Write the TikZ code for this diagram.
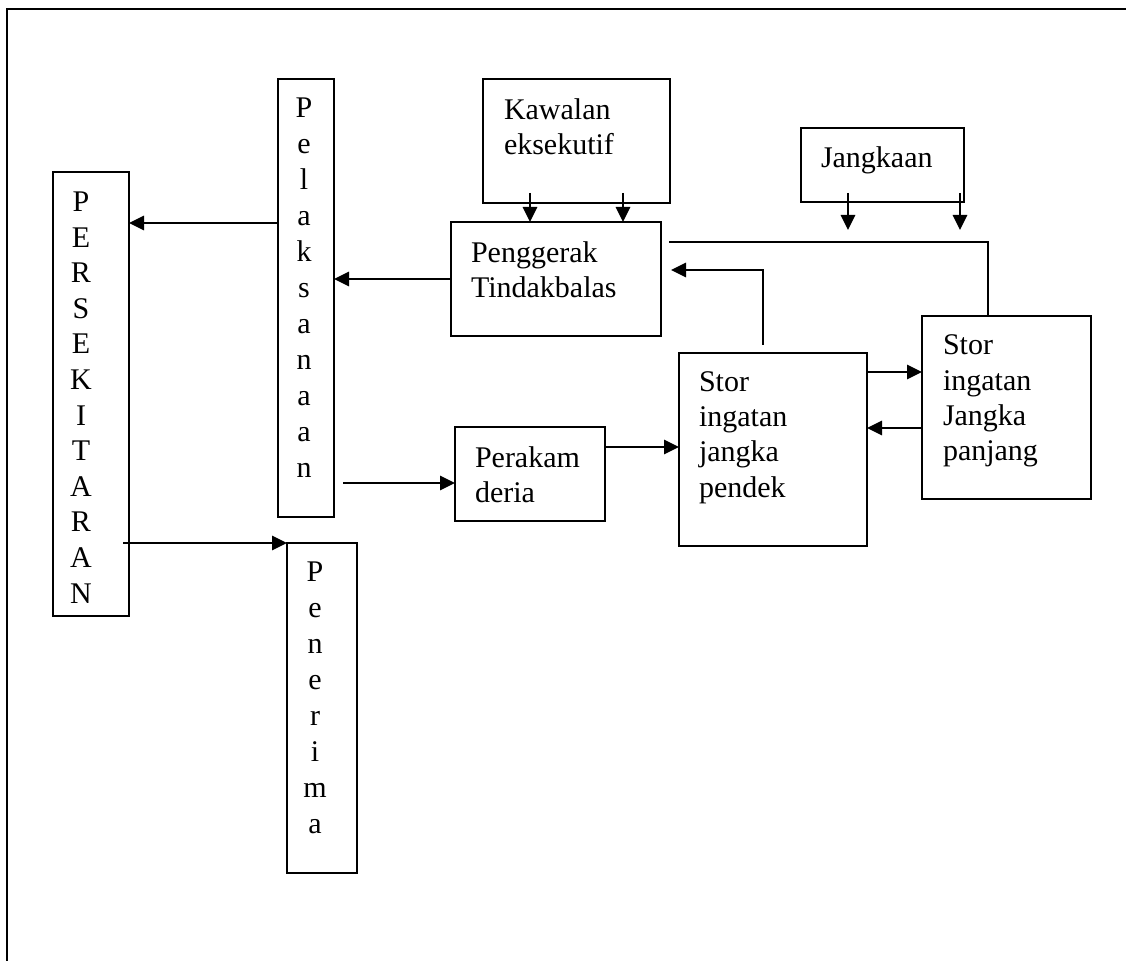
\documentclass[tikz,border=0pt]{standalone}
\usepackage{fontspec}
\setmainfont{Liberation Serif}
\usetikzlibrary{arrows.meta,calc}

\begin{document}
\begin{tikzpicture}[x=0.5pt,y=-0.5pt,
  box/.style={draw,line width=0.85pt,inner sep=0pt,outer sep=0pt,rectangle},
  lbl/.style={inner sep=0pt,outer sep=0pt,anchor=north west,align=left,
              font=\fontsize{15pt}{17.6pt}\selectfont},
  stack/.style={inner sep=0pt,outer sep=0pt,align=center,
              font=\fontsize{15pt}{#1}\selectfont},
  link/.style={line width=0.85pt},
  arr/.style={link,-{Triangle[length=7.5pt,width=7.2pt]}},
  frame/.style={line width=1pt}]

\useasboundingbox (0,0) rectangle (1126,961);

% outer frame (top and left edges)
\draw[frame] (1126,9) -- (7,9) -- (7,961);

% boxes
\node[box,minimum width=38pt,minimum height=222pt] (pers) at (91,394) {};
\node[box,minimum width=28pt,minimum height=219pt] (pel) at (306,298) {};
\node[box,minimum width=93.5pt,minimum height=62pt] (kaw) at (576.5,141) {};
\node[box,minimum width=105pt,minimum height=57pt] (pgr) at (556,279) {};
\node[box,minimum width=81.5pt,minimum height=37pt] (jan) at (882.5,165) {};
\node[box,minimum width=94pt,minimum height=96.5pt] (stm) at (773,449.5) {};
\node[box,minimum width=84.5pt,minimum height=91.5pt] (ltm) at (1006.5,407.5) {};
\node[box,minimum width=75pt,minimum height=47pt] (per) at (530,474) {};
\node[box,minimum width=35pt,minimum height=165pt] (pen) at (322,708) {};

% vertical letter columns
\node[stack=17.8pt] (tpers) at (81,397.5) {P\\E\\R\\S\\E\\K\\I\\T\\A\\R\\A\\N};
\node[stack=18pt] (tpel) at (304,287.5) {P\\e\\l\\a\\k\\s\\a\\n\\a\\a\\n};
\node[stack=18pt] (tpen) at (315,697.5) {P\\e\\n\\e\\r\\i\\m\\a};

% box labels
\node[lbl] (tkaw) at (504,98.5) {Kawalan\\eksekutif};
\node[lbl] (tpgr) at (471,241.5) {Penggerak\\Tindakbalas};
\node[lbl] (tjan) at (821,146.5) {Jangkaan};
\node[lbl] (tstm) at (699,371.7) {Stor\\ingatan\\jangka\\pendek};
\node[lbl] (tltm) at (943,335) {Stor\\ingatan\\Jangka\\panjang};
\node[lbl] (tper) at (475,446.5) {Perakam\\deria};

% free ends of the arrows below Jangkaan
\coordinate (janL) at (848,230);
\coordinate (janR) at (960,230);

% connectors
\draw[arr] (pgr.west) -- (pgr.west -| pel.east);
\draw[arr] ($(pel.west)+(0,37.5pt)$) -- ($(pel.west -| pers.east)+(0,37.5pt)$);

\draw[arr] ($(kaw.south)+(-23.25pt,5pt)$) -- ($(kaw.south |- pgr.north)+(-23.25pt,0)$);
\draw[arr] ($(kaw.south)+(23.25pt,5pt)$) -- ($(kaw.south |- pgr.north)+(23.25pt,0)$);

\draw[arr] ($(jan.south)+(-17.25pt,4.5pt)$) -- (janL);
\draw[arr] ($(jan.south)+(38.75pt,4.5pt)$) -- (janR);

\draw[link] ($(ltm.north)+(-9.25pt,0)$) |- ($(pgr.east)+(4pt,18.5pt)$);
\draw[arr] ($(stm.north)+(-5pt,4pt)$) |- ($(pgr.east)+(5pt,4.5pt)$);

\draw[arr] ($(stm.east)+(0,38.75pt)$) -- ($(stm.east -| ltm.west)+(0,38.75pt)$);
\draw[arr] ($(ltm.west)+(0,-10.25pt)$) -- ($(ltm.west -| stm.east)+(0,-10.25pt)$);

\draw[arr] ($(pel.east |- per.west)+(4.5pt,-4.5pt)$) -- ($(per.west)+(0,-4.5pt)$);
\draw[arr] ($(per.east)+(0,13.5pt)$) -- ($(per.east -| stm.west)+(0,13.5pt)$);

\draw[arr] ($(pers.east |- pen.north)+(-3pt,0)$) -- (pen.north west);

\end{tikzpicture}
\end{document}
